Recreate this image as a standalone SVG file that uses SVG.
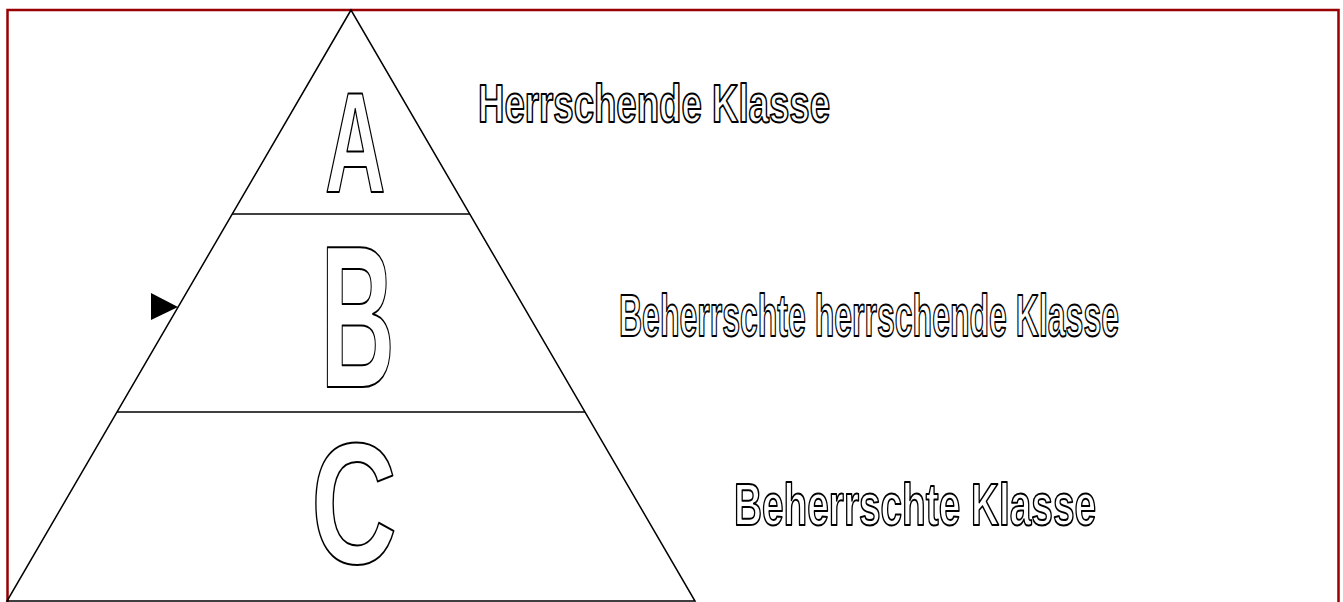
<svg xmlns="http://www.w3.org/2000/svg" width="1343" height="602" viewBox="0 0 1343 602">
<style>
.ol{font-family:"Liberation Sans",Arial,sans-serif;font-weight:bold;fill:#fff;stroke:#000;stroke-width:2;stroke-linejoin:round}
.ln{stroke:#000;stroke-width:1.5;fill:none}
</style>
<rect x="0" y="0" width="1343" height="602" fill="#fff"/>
<rect x="7.5" y="10" width="1331" height="600" fill="none" stroke="#990000" stroke-width="2.5"/>
<g id="connectors">
<polygon class="ln" points="351,10 7,601 695,601"/>
<line class="ln" x1="232" y1="214" x2="470" y2="214"/>
<line class="ln" x1="117" y1="412" x2="585" y2="412"/>
<polygon points="151,293 151,320 178,307" fill="#000"/>
</g>
<g id="nodeA"><text class="ol" x="325" y="192" font-size="142" textLength="60.5" lengthAdjust="spacingAndGlyphs">A</text></g>
<g id="nodeB"><text class="ol" x="320.5" y="387" font-size="202" textLength="74.4" lengthAdjust="spacingAndGlyphs">B</text></g>
<g id="nodeC"><text class="ol" x="311" y="563" font-size="173" textLength="86" lengthAdjust="spacingAndGlyphs">C</text></g>
<g id="labelA"><text class="ol" x="478" y="122" font-size="53" textLength="352" lengthAdjust="spacingAndGlyphs">Herrschende Klasse</text></g>
<g id="labelB"><text class="ol" x="619" y="336" font-size="60" textLength="500" lengthAdjust="spacingAndGlyphs">Beherrschte herrschende Klasse</text></g>
<g id="labelC"><text class="ol" x="734" y="525" font-size="60" textLength="362" lengthAdjust="spacingAndGlyphs">Beherrschte Klasse</text></g>
</svg>
